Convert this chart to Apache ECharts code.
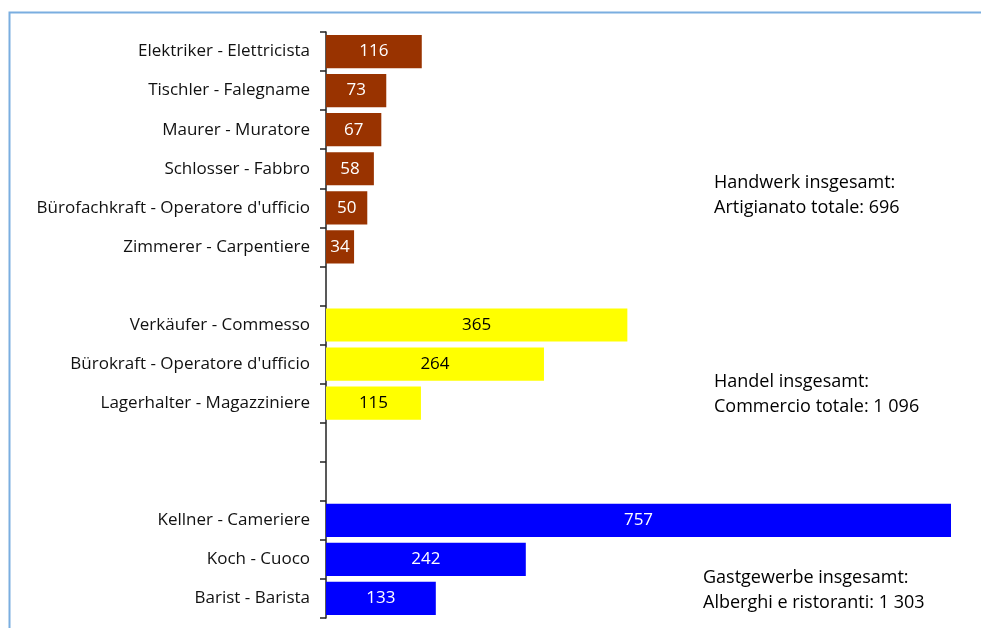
<!DOCTYPE html>
<html>
<head>
<meta charset="utf-8">
<script src="https://cdn.jsdelivr.net/npm/echarts@6/dist/echarts.min.js"></script>
<style>
html,body{margin:0;padding:0;background:#fff;}
#c{width:981px;height:628px;}
</style>
</head>
<body>
<div id="c"></div>
<script>
const categories = [
  "Elektriker - Elettricista",
  "Tischler - Falegname",
  "Maurer - Muratore",
  "Schlosser - Fabbro",
  "Bürofachkraft - Operatore d'ufficio",
  "Zimmerer - Carpentiere",
  " ",
  "Verkäufer - Commesso",
  "Bürokraft - Operatore d'ufficio",
  "Lagerhalter - Magazziniere",
  "  ",
  "   ",
  "Kellner - Cameriere",
  "Koch - Cuoco",
  "Barist - Barista"
];
const handwerkValues = [116, 73, 67, 58, 50, 34, null, null, null, null, null, null, null, null, null];
const handelValues   = [null, null, null, null, null, null, null, 365, 264, 115, null, null, null, null, null];
const gastValues     = [null, null, null, null, null, null, null, null, null, null, null, null, 757, 242, 133];
const groupNotes = [
  ["Handwerk insgesamt:", "Artigianato totale: 696"],
  ["Handel insgesamt:", "Commercio totale: 1 096"],
  ["Gastgewerbe insgesamt:", "Alberghi e ristoranti: 1 303"]
];
const colors = ["#993300", "#FFFF00", "#0000FF"];
const labelColors = ["#ffffff", "#000000", "#ffffff"];

const FONT = "'Open Sans', 'Noto Sans', sans-serif";
const chart = echarts.init(document.getElementById('c'), null, {renderer: 'canvas'});

const allVals = handwerkValues.concat(handelValues, gastValues).filter(v => v != null);
const maxVal = Math.max.apply(null, allVals);

function mkSeries(name, data, idx) {
  return {
    name: name,
    type: 'bar',
    stack: 'all',
    data: data,
    barCategoryGap: '15%',
    itemStyle: {color: colors[idx]},
    label: {
      show: true,
      position: 'inside',
      color: labelColors[idx],
      fontFamily: FONT,
      fontSize: 17,
      formatter: p => p.value == null ? '' : String(p.value)
    },
    silent: true,
    animation: false
  };
}

const noteStyle = {fill: '#000', fontFamily: FONT, fontSize: 18, lineHeight: 25};
function note(x, y, lines) {
  return {type: 'text', left: x, top: y, style: Object.assign({text: lines.join('\n')}, noteStyle)};
}

chart.setOption({
  animation: false,
  grid: {left: 326, top: 32, width: 625, height: 586, containLabel: false},
  xAxis: {type: 'value', min: 0, max: maxVal, show: false},
  yAxis: {
    type: 'category',
    inverse: true,
    data: categories,
    axisLine: {show: true, lineStyle: {color: '#222', width: 1.5}},
    axisTick: {show: true, length: 6, alignWithLabel: false, lineStyle: {color: '#222', width: 1.5}},
    axisLabel: {color: '#111', fontFamily: FONT, fontSize: 17, margin: 16, interval: 0},
    splitLine: {show: false}
  },
  series: [
    mkSeries('Handwerk', handwerkValues, 0),
    mkSeries('Handel', handelValues, 1),
    mkSeries('Gastgewerbe', gastValues, 2)
  ],
  graphic: [
    {type: 'polyline', shape: {points: [[9.5, 640], [9.5, 12.5], [990, 12.5]]}, style: {stroke: '#7aaee0', lineWidth: 2, fill: null}, silent: true},
    note(714, 170, groupNotes[0]),
    note(714, 369, groupNotes[1]),
    note(703, 565, groupNotes[2])
  ]
});
</script>
</body>
</html>
